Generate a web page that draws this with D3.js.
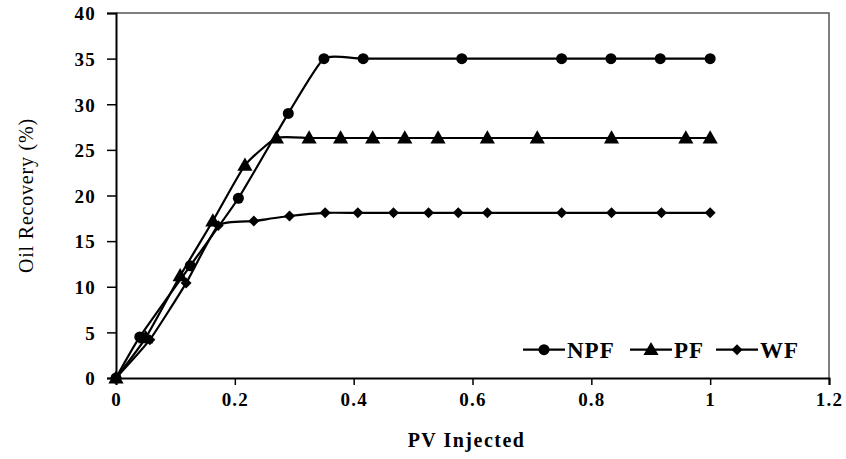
<!DOCTYPE html>
<html lang="en">
<head>
<meta charset="utf-8">
<title>Oil Recovery vs PV Injected</title>
<script src="https://cdn.jsdelivr.net/npm/d3@7"></script>
<style>
  body { margin: 0; background: #fff; }
</style>
</head>
<body>
<script>
// series
const npfX = [0, 0.04, 0.125, 0.206, 0.29, 0.35, 0.416, 0.582, 0.75, 0.833, 0.916, 1.0];
const npfY = [0, 4.5, 12.3, 19.7, 29.0, 35.0, 35.0, 35.0, 35.0, 35.0, 35.0, 35.0];

const pfX = [0, 0.05, 0.108, 0.163, 0.217, 0.27, 0.325, 0.378, 0.432, 0.486, 0.542, 0.625, 0.709, 0.834, 0.959, 1.0];
const pfY = [0, 4.4, 11.2, 17.2, 23.3, 26.3, 26.3, 26.3, 26.3, 26.3, 26.3, 26.3, 26.3, 26.3, 26.3, 26.3];

const wfX = [0, 0.057, 0.118, 0.172, 0.232, 0.292, 0.352, 0.407, 0.467, 0.526, 0.576, 0.625, 0.75, 0.834, 0.918, 1.0];
const wfY = [0, 4.2, 10.4, 16.7, 17.2, 17.75, 18.1, 18.1, 18.1, 18.1, 18.1, 18.1, 18.1, 18.1, 18.1, 18.1];

const xTicks = [0, 0.2, 0.4, 0.6, 0.8, 1, 1.2];
const yTicks = [0, 5, 10, 15, 20, 25, 30, 35, 40];
const seriesNames = ["NPF", "PF", "WF"];

const FONT = "'Liberation Serif', 'DejaVu Serif', serif";
const W = 846, H = 459;
const margin = {top: 13, right: 17, bottom: 81, left: 116};
const iw = W - margin.left - margin.right, ih = H - margin.top - margin.bottom;

const svg = d3.select("body").append("svg").attr("width", W).attr("height", H);
const g = svg.append("g").attr("transform", `translate(${margin.left},${margin.top})`);

const x = d3.scaleLinear().domain([0, 1.2]).range([0, iw]);
const y = d3.scaleLinear().domain([0, 40]).range([ih, 0]);

// marker shapes: circle, triangle, diamond (rotated square)
const marker = [
  s => s.append("circle").attr("r", 5.5),
  s => s.append("path").attr("d", d3.symbol().type(d3.symbolTriangle).size(100)).attr("transform", "translate(0,1)"),
  s => s.append("path").attr("d", d3.symbol().type(d3.symbolSquare).size(60)).attr("transform", "rotate(45)")
];

// frame: top and right
g.append("path")
  .attr("d", `M0,0H${iw}V${ih}`)
  .attr("fill", "none").attr("stroke", "#555").attr("stroke-width", 1.5);

const xAxis = g.append("g").attr("transform", `translate(0,${ih})`)
  .call(d3.axisBottom(x).tickValues(xTicks).tickFormat(d3.format("")).tickSize(7).tickPadding(8));
const yAxis = g.append("g")
  .call(d3.axisLeft(y).tickValues(yTicks).tickSize(9).tickPadding(11));
[xAxis, yAxis].forEach(a => {
  a.attr("font-family", FONT).attr("font-size", 19).attr("font-weight", "bold");
  a.select(".domain").attr("stroke", "#000").attr("stroke-width", 2);
  a.selectAll(".tick line").attr("stroke", "#000").attr("stroke-width", 1.5);
  a.selectAll(".tick text").attr("fill", "#000").attr("letter-spacing", 1.2);
});
yAxis.selectAll(".tick text").attr("dy", "0.36em");

const line = d3.line()
  .x(d => x(d[0])).y(d => y(d[1]))
  .curve(d3.curveCardinal.tension(0.5));

const data = [
  d3.zip(npfX, npfY),
  d3.zip(pfX, pfY),
  d3.zip(wfX, wfY)
];

data.forEach((pts, i) => {
  g.append("path").datum(pts)
    .attr("d", line)
    .attr("fill", "none").attr("stroke", "#000").attr("stroke-width", 2.2);
  const m = g.selectAll(null).data(pts).enter().append("g")
    .attr("transform", d => `translate(${x(d[0])},${y(d[1])})`)
    .attr("fill", "#000");
  marker[i](m);
});

// legend
const legendX = [407, 514, 600];
const legend = g.append("g").attr("transform", `translate(0,${y(3.1)})`);
seriesNames.forEach((name, i) => {
  const lg = legend.append("g").attr("transform", `translate(${legendX[i]},0)`);
  lg.append("line").attr("x1", 0).attr("x2", 42)
    .attr("stroke", "#000").attr("stroke-width", 2.2);
  const m = lg.append("g").attr("transform", "translate(21,0)").attr("fill", "#000");
  marker[i](m);
  lg.append("text").attr("x", 44).attr("dy", "0.35em")
    .attr("font-family", FONT).attr("font-size", 23).attr("font-weight", "bold")
    .attr("letter-spacing", 1)
    .text(name);
});

// axis titles
svg.append("text")
  .attr("x", margin.left + x(0.59)).attr("y", 447)
  .attr("text-anchor", "middle")
  .attr("font-family", FONT).attr("font-size", 20).attr("font-weight", "bold")
  .attr("letter-spacing", 1.5)
  .text("PV Injected");
svg.append("text")
  .attr("transform", `translate(33,${margin.top + y(20)}) rotate(-90)`)
  .attr("text-anchor", "middle")
  .attr("font-family", FONT).attr("font-size", 20)
  .attr("letter-spacing", 0.8)
  .text("Oil Recovery  (%)");
</script>
</body>
</html>
